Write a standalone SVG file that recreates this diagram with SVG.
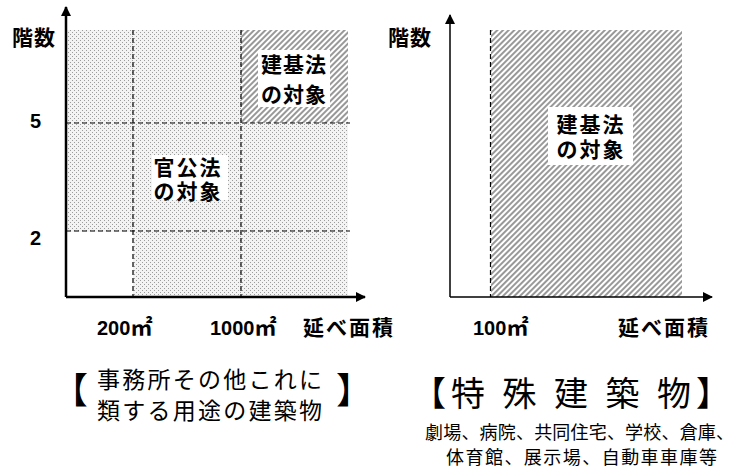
<svg xmlns="http://www.w3.org/2000/svg" width="734" height="468" viewBox="0 0 734 468">
<style>
.lbl{font-family:"Noto Sans CJK JP",sans-serif;font-weight:bold;font-size:21px;fill:#000;}
.num{font-family:"Liberation Sans","Noto Sans CJK JP",sans-serif;font-weight:bold;font-size:20px;fill:#000;}
.unit{font-family:"Noto Sans CJK JP",sans-serif;font-weight:bold;}
.dash{stroke:#000;stroke-width:1.2;stroke-dasharray:5,3;fill:none;}
.axis{stroke:#000;fill:none;}
.box{fill:#fff;}
.title{font-family:"Noto Sans CJK JP",sans-serif;font-weight:normal;fill:#000;}
</style>
<defs>
<pattern id="dots" width="4" height="4" patternUnits="userSpaceOnUse">
<rect width="4" height="4" fill="#f3f3f3"/>
<rect x="0" y="0" width="1" height="1" fill="#9c9c9c"/>
<rect x="2" y="2" width="1" height="1" fill="#9c9c9c"/>
</pattern>
<pattern id="hatch" width="4" height="4" patternUnits="userSpaceOnUse" patternTransform="rotate(45)">
<rect width="4" height="4" fill="#fff"/>
<line x1="1" y1="0" x2="1" y2="4" stroke="#444" stroke-width="1.1"/>
</pattern>
<marker id="arrL" viewBox="0 0 10 10" refX="9" refY="5" markerWidth="10" markerHeight="10" markerUnits="userSpaceOnUse" orient="auto">
<path d="M0,0 L10,5 L0,10 z" fill="#000"/>
</marker>
</defs>
<rect width="734" height="468" fill="#fff"/>

<g id="left-chart">
<rect x="67" y="30" width="281" height="267" fill="url(#dots)"/>
<rect x="67" y="232" width="66" height="65" fill="#fff"/>
<rect x="241" y="30" width="107" height="93" fill="url(#hatch)"/>
</g>

<g id="right-chart">
<rect x="491" y="30" width="191" height="267" fill="url(#hatch)"/>
</g>

<g id="connectors">
<line class="dash" x1="133" y1="30" x2="133" y2="297"/>
<line class="dash" x1="241" y1="30" x2="241" y2="297"/>
<line class="dash" x1="66" y1="123" x2="350" y2="123"/>
<line class="dash" x1="66" y1="231" x2="350" y2="231"/>
<line class="dash" x1="490.5" y1="30" x2="490.5" y2="297"/>
<line class="axis" x1="66" y1="297" x2="66" y2="7" stroke-width="2.5" marker-end="url(#arrL)"/>
<line class="axis" x1="66" y1="297" x2="365" y2="297" stroke-width="2.5" marker-end="url(#arrL)"/>
<line class="axis" x1="450" y1="297" x2="450" y2="15" stroke-width="1.5" marker-end="url(#arrL)"/>
<line class="axis" x1="450" y1="297" x2="712" y2="297" stroke-width="1.5" marker-end="url(#arrL)"/>
</g>

<g id="label-kensu-left">
<text class="lbl" x="12" y="45" letter-spacing="1">階数</text>
</g>
<g id="label-5">
<text class="num" x="30" y="128" font-size="21">5</text>
</g>
<g id="label-2">
<text class="num" x="30" y="245" font-size="21">2</text>
</g>
<g id="node-kenkiho-left">
<rect class="box" x="258" y="50" width="72" height="57"/>
<text class="lbl" x="294" y="72" text-anchor="middle" letter-spacing="1">建基法</text>
<text class="lbl" x="294" y="102" text-anchor="middle" letter-spacing="1">の対象</text>
</g>
<g id="node-kankoho">
<rect class="box" x="152" y="155" width="76" height="45"/>
<text class="lbl" x="188" y="175" text-anchor="middle" font-size="20" letter-spacing="2">官公法</text>
<text class="lbl" x="188" y="199" text-anchor="middle" font-size="20" letter-spacing="2">の対象</text>
</g>
<g id="label-200">
<text class="num" x="97" y="335">200<tspan class="unit" font-size="22">㎡</tspan></text>
</g>
<g id="label-1000">
<text class="num" x="210" y="335">1000<tspan class="unit" font-size="22">㎡</tspan></text>
</g>
<g id="label-menseki-left">
<text class="lbl" x="303" y="335" letter-spacing="2">延べ面積</text>
</g>

<g id="label-kensu-right">
<text class="lbl" x="388" y="45" letter-spacing="1">階数</text>
</g>
<g id="node-kenkiho-right">
<rect class="box" x="548" y="107" width="85" height="58"/>
<text class="lbl" x="591" y="132" text-anchor="middle" font-size="20" letter-spacing="2">建基法</text>
<text class="lbl" x="591" y="157" text-anchor="middle" font-size="20" letter-spacing="2">の対象</text>
</g>
<g id="label-100">
<text class="num" x="473" y="335">100<tspan class="unit" font-size="22">㎡</tspan></text>
</g>
<g id="label-menseki-right">
<text class="lbl" x="618" y="335" letter-spacing="2">延べ面積</text>
</g>

<g id="title-left">
<text class="title" x="52" y="404" font-size="36" font-weight="bold">【</text>
<text class="title" x="97" y="388" font-size="23" textLength="225" lengthAdjust="spacing">事務所その他これに</text>
<text class="title" x="97" y="419" font-size="23" textLength="225" lengthAdjust="spacing">類する用途の建築物</text>
<text class="title" x="336" y="404" font-size="36" font-weight="bold">】</text>
</g>

<g id="title-right">
<text class="title" x="412" y="406" font-size="34" textLength="318" lengthAdjust="spacing">【特 殊 建 築 物】</text>
<text class="title" x="425" y="439" font-size="18" textLength="309" lengthAdjust="spacing">劇場、病院、共同住宅、学校、倉庫、</text>
<text class="title" x="446" y="464" font-size="18" textLength="271" lengthAdjust="spacing">体育館、展示場、自動車車庫等</text>
</g>
</svg>
